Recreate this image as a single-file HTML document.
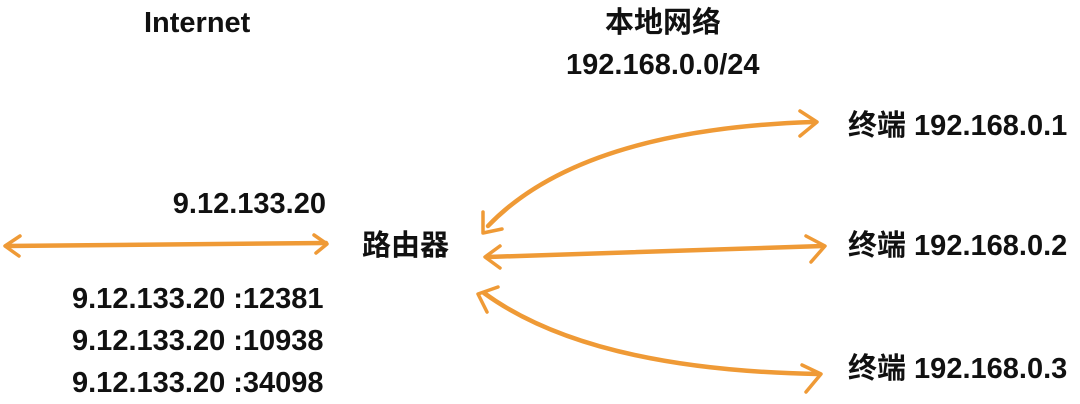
<!DOCTYPE html>
<html><head><meta charset="utf-8"><style>
body{margin:0;width:1080px;height:404px;background:#fff;position:relative;overflow:hidden;font-family:"Liberation Sans","Noto Sans CJK SC",sans-serif;font-weight:bold;font-size:29px;color:#111}
.t{position:absolute;white-space:nowrap;line-height:1}
svg{position:absolute;left:0;top:0}
</style></head><body>
<svg width="1080" height="404" fill="none" stroke="#ef9a36" stroke-width="3.5" stroke-linecap="round" stroke-linejoin="round">
<g stroke-width="4.5"><path d="M6 246 L326 243"/><path d="M488 226 Q580 130 812 122"/><path d="M488 257 L823 246"/><path d="M484 293 Q590 370 818 374"/></g>
<path d="M20 236 L5 246 L19 256"/><path d="M314 235 L327 244 L316 253"/>
<path d="M483 212 L483 233 L502 229"/><path d="M800 111 L817 122 L800 136"/>
<path d="M500 246 L485 257 L500 268"/><path d="M806 236 L825 246 L811 262"/>
<path d="M498 287 L478 294 L487 312"/><path d="M802 365 L821 374 L806 392"/>
</svg>
<div class="t" style="left:144px;top:9px">Internet</div>
<div class="t" style="left:605px;top:9px">本地网络</div>
<div class="t" style="left:566px;top:51px">192.168.0.0/24</div>
<div class="t" style="right:754px;top:190px">9.12.133.20</div>
<div class="t" style="left:362px;top:232px">路由器</div>
<div class="t" style="left:72px;top:285px">9.12.133.20 :12381</div>
<div class="t" style="left:72px;top:327px">9.12.133.20 :10938</div>
<div class="t" style="left:72px;top:369px">9.12.133.20 :34098</div>
<div class="t" style="left:848px;top:112px">终端 192.168.0.1</div>
<div class="t" style="left:848px;top:232px">终端 192.168.0.2</div>
<div class="t" style="left:848px;top:355px">终端 192.168.0.3</div>
</body></html>
